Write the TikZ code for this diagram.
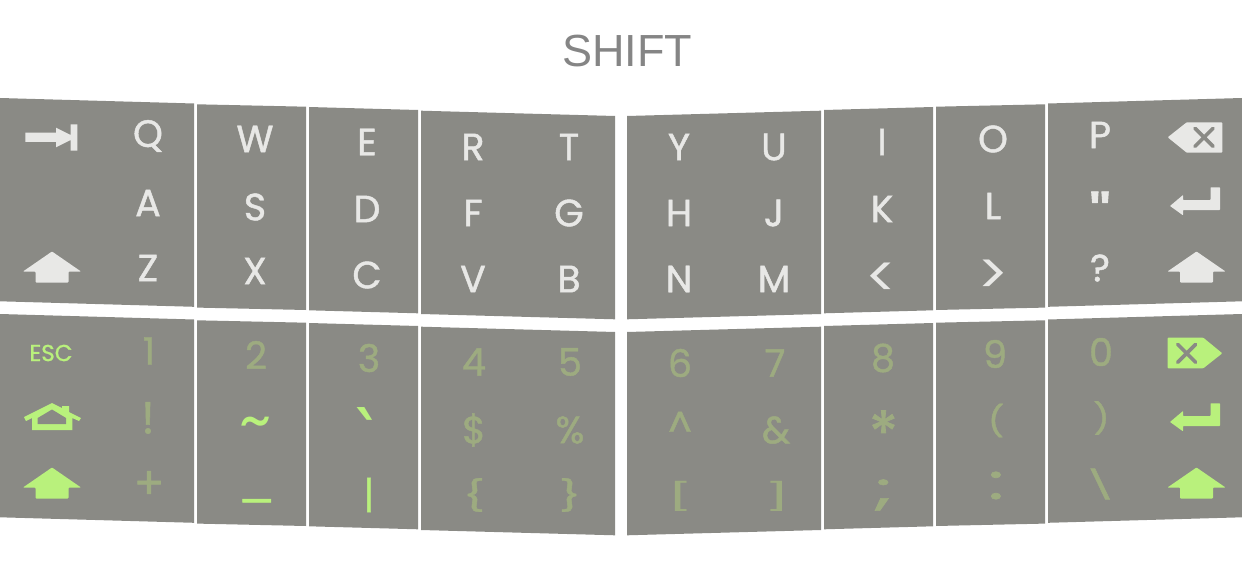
\documentclass[tikz,border=0pt]{standalone}
\usepackage{fontspec}
\newfontfamily\keyfont[FakeBold=1.2]{Poppins}
\newfontfamily\keythin{Poppins}
\newfontfamily\gravefont{DejaVu Sans}
\newfontfamily\titlefont{Liberation Sans}
\definecolor{panelgray}{HTML}{8A8A85}
\definecolor{keywhite}{HTML}{E8E8E6}
\definecolor{keygreen}{HTML}{B9F17C}
\definecolor{keyfade}{HTML}{9DAB80}
\tikzset{
  uparrow/.pic={\fill[pic actions,rounded corners=0.8] (0,-15.5) -- (29,4.5) -- (16.5,4.5) -- (16.5,15.5) -- (-16.5,15.5) -- (-16.5,4.5) -- (-29,4.5) -- cycle;},
  returnarrow/.pic={\fill[pic actions,rounded corners=0.6] (-25,4) -- (-12,-7) -- (-12,-2) -- (15.5,-2) -- (15.5,-14.7) -- (25,-14.7) -- (25,8) -- (-12,8) -- (-12,13.3) -- cycle;}
}
\begin{document}
\begin{tikzpicture}[x=1pt,y=-1pt,
  keysize/.style={font=\keyfont\fontsize{#1}{#1}\selectfont},
  thinsize/.style={font=\keythin\fontsize{#1}{#1}\selectfont},
  keytext/.style={inner sep=0,keysize=38},
  whitekey/.style={keytext,text=keywhite},
  greenkey/.style={keytext,text=keygreen},
  fadekey/.style={keytext,text=keyfade}]
\useasboundingbox (0,0) rectangle (1242,583);
\node[font=\titlefont\fontsize{45}{45}\selectfont,text=black!48,inner sep=0] (title) at (627,51.5) {SHIFT};
% panels
\foreach \dy in {0,216}
  \foreach \xa/\ya/\xb/\yb in {0/98/194/103.5,197/104.3/306/106.7,309/107/418/110,421/110.7/615/116,627/116/821/110.7,824/110/933/107,936/106.7/1045/104.3,1048/103.5/1242/98}
    \fill[panelgray] (\xa,\ya+\dy) -- (\xb,\yb+\dy) -- (\xb,\yb+\dy+203.3) -- (\xa,\ya+\dy+203.3) -- cycle;
% letters
\foreach \nm/\px/\py in {Q/148/136,W/255/139,E/367/142,R/473/147,T/569/147,Y/679/147,U/774/147,I/882/142,O/993/139,P/1100/135,
  A/148/203,S/255/207,D/367/209,F/473/213,G/569/213,H/679/213,J/774/213,K/882/209,L/993/206,
  Z/148/268,X/255/271,C/367/275,V/473/279,B/569/279,N/679/279,M/774/279}
  \node[whitekey] (key\nm) at (\px,\py) {\nm};
\node[whitekey,keysize=56] (keyquote) at (1100,214) {\scalebox{1.35}[1]{"}};
\node[whitekey,thinsize=58] (keyless) at (881.5,280.5) {<};
\node[whitekey,thinsize=58] (keygreater) at (993.5,277) {>};
\node[whitekey] (keyquestion) at (1100,268) {?};
% numbers
\foreach \nm/\px/\py in {1/149/351,2/256/355,3/369/358,4/474/362,5/570/362,6/680/363,7/775/363,8/883/358,9/995/354,0/1101/352}
  \node[fadekey] (num\nm) at (\px,\py) {\nm};
\node[fadekey,keysize=45] (keybang) at (148,418) {!};
\node[fadekey] (keydollar) at (474,430) {\$};
\node[fadekey] (keypercent) at (570,430) {\%};
\node[fadekey] (keycaret) at (680,425) {\textasciicircum};
\node[fadekey] (keyamp) at (776,430) {\&};
\node[fadekey,keysize=60] (keystar) at (883.5,432.5) {*};
\node[fadekey,keysize=30] (keyparl) at (996,420.5) {\scalebox{1.2}[1]{(}};
\node[fadekey,keysize=30] (keyparr) at (1101.5,418) {\scalebox{1.2}[1]{)}};
\node[fadekey,keysize=45] (keyplus) at (149,485) {+};
\node[fadekey,keysize=30] (keybracel) at (474,495) {\scalebox{1.6}[1]{\{}};
\node[fadekey,keysize=30] (keybracer) at (570,495) {\scalebox{1.6}[1]{\}}};
\node[fadekey,thinsize=27] (keybrackl) at (680,496) {\scalebox{2.4}[1]{[}};
\node[fadekey,thinsize=27] (keybrackr) at (777,496) {\scalebox{2.4}[1]{]}};
\node[fadekey,keysize=45] (keysemi) at (883.5,495) {\scalebox{1.7}[1]{;}};
\node[fadekey,keysize=50] (keycolon) at (996,485.5) {\scalebox{1.5}[1]{:}};
\node[fadekey,keysize=28] (keyslash) at (1100,484) {\scalebox{1.7}[1]{\textbackslash}};
% green symbols
\node[greenkey,keysize=23] (keyesc) at (51,353) {ESC};
\node[greenkey,thinsize=62] (keytilde) at (256,429) {\textasciitilde};
\node[greenkey,font=\gravefont\bfseries\fontsize{70}{70}\selectfont] (keygrave) at (368.5,416) {\raisebox{-40pt}[14pt][0pt]{\scalebox{0.8}[1]{`}}};
\node[greenkey] (keyunder) at (256.5,500) {\scalebox{1.4}[1]{\_}};
\node[greenkey] (keybar) at (369,495) {|};
% icons
\pic[fill=keywhite] (shiftlt) at (52,267) {uparrow};
\pic[fill=keywhite] (shiftrt) at (1196.5,267) {uparrow};
\pic[fill=keygreen] (shiftlb) at (52,483) {uparrow};
\pic[fill=keygreen] (shiftrb) at (1196.5,483) {uparrow};
\pic[fill=keywhite] (entert) at (1195,202) {returnarrow};
\pic[fill=keygreen] (enterb) at (1195,418) {returnarrow};
% tab
\fill[keywhite] (25.3,132.7) -- (56,132.7) -- (56,127.7) -- (70.7,135) -- (70.7,124.3) -- (77.3,124.3) -- (77.3,150.7) -- (70.7,150.7) -- (70.7,140) -- (56,147.3) -- (56,142) -- (25.3,142) -- cycle;
% backspace
\fill[keywhite,rounded corners=0.8] (1167.7,137.3) -- (1186.7,122.3) -- (1222.3,122.3) -- (1222.3,152.7) -- (1186.7,152.7) -- cycle;
\draw[panelgray,line width=3.6,line cap=round] (1195,128.3) -- (1213,146.3) (1213,128.3) -- (1195,146.3);
% delete
\fill[keygreen,rounded corners=0.8] (1222.3,353.3) -- (1203.3,337.7) -- (1167.7,337.7) -- (1167.7,368.3) -- (1203.3,368.3) -- cycle;
\draw[panelgray,line width=3.6,line cap=round] (1177.7,344.3) -- (1195.7,362.3) (1195.7,344.3) -- (1177.7,362.3);
% home
\fill[keygreen] (24,417) -- (52,403) -- (62,408) -- (62,406) -- (69,406) -- (69,412) -- (81,418) -- (79,421) -- (72.3,418) -- (72.3,430) -- (32,430) -- (32,418) -- (26,421) -- cycle;
\fill[panelgray] (37.7,424) -- (37.7,418) -- (52,409.5) -- (66,418) -- (66,424) -- cycle;
\end{tikzpicture}
\end{document}
